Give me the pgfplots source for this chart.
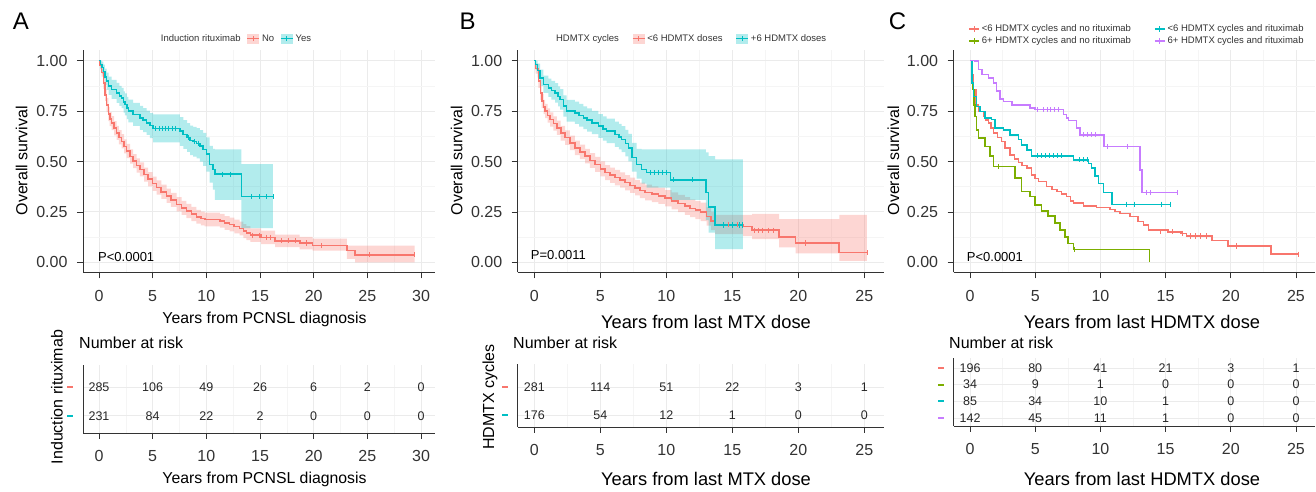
\documentclass[border=0pt]{standalone}
\usepackage{fontspec}
\setmainfont{Liberation Sans}
\usepackage{pgfplots}
\pgfplotsset{compat=1.18}
\usepgfplotslibrary{fillbetween}
\definecolor{kmred}{HTML}{F8766D}
\definecolor{kmcyan}{HTML}{00BFC4}
\definecolor{kmgreen}{HTML}{7CAE00}
\definecolor{kmpurple}{HTML}{C77CFF}
\definecolor{tickgray}{HTML}{333333}
\newcommand{\fsz}[1]{\fontsize{#1}{#1}\selectfont}
\newcommand{\keybox}[1]{\fill[#1, opacity=0.3, draw=none] (0pt,-5pt) rectangle (12pt,5pt);
  \draw[#1, line width=1.4pt] (0pt,0pt) -- (12pt,0pt); \draw[#1, line width=0.9pt] (6pt,-2.5pt) -- (6pt,2.5pt);}
\newcommand{\keyline}[1]{\draw[#1, line width=1.6pt] (0pt,0pt) -- (10pt,0pt); \draw[#1, line width=1pt] (5pt,-2.8pt) -- (5pt,2.8pt);}
\newcommand{\dash}[1]{\textcolor{#1}{\rule{6pt}{2.2pt}}}
\pgfplotsset{
  km/.style={
    scale only axis,
    axis x line*=bottom, axis y line*=left,
    axis line style={-, line width=0.8pt, black!80},
    tick align=outside, major tick length=6pt, minor tick length=0pt,
    tick style={black!80, line width=0.8pt},
    xmajorgrids, ymajorgrids, xminorgrids, minor x tick num=1,
    major grid style={line width=0.9pt, black!8},
    minor grid style={line width=0.6pt, black!4},
    tick label style={font=\fsz{16}, text=tickgray},
    xticklabel style={yshift=-8pt},
    /pgf/number format/assume math mode=true,
  },
  kmmain/.style={km, height=222pt, ymin=-0.05, ymax=1.05,
    ytick={0,0.25,0.5,0.75,1}, yticklabels={0.00,0.25,0.50,0.75,1.00},
    yticklabel style={xshift=-6pt},
    minor y tick num=1, yminorgrids,
    legend style={draw=none, fill=none, inner sep=0pt, font=\fsz{9.5}, text=tickgray},
    legend cell align=left},
  kmrisk/.style={km, ytick style={draw=none}},
  curve/.style={const plot, line width=1.55pt, forget plot},
  cens/.style={only marks, mark=|, mark size=2.6pt, mark options={line width=0.8pt}, forget plot},
  band/.style={draw=none, const plot, forget plot},
  risknum/.style={only marks, mark=none, forget plot, nodes near coords, point meta=explicit symbolic,
    every node near coord/.style={anchor=center, font=\fsz{12.5}, text=black!85}},
}
\begin{document}
\begin{tikzpicture}[x=1pt, y=1pt]

% ---------------- Panel A ----------------
\begin{axis}[kmmain, at={(83pt,219.5pt)}, anchor=south west, width=352pt,
  xmin=-1.49, xmax=31.3, xtick={0,5,...,30},
  legend columns=-1,
  legend style={at={(0.215,1.054)}, anchor=west, /tikz/every even column/.append style={column sep=4pt}}]
\addlegendimage{empty legend}\addlegendentry{Induction rituximab}
\addlegendimage{legend image code/.code={\keybox{kmred}}}\addlegendentry{No\hspace{18pt}}
\addlegendimage{legend image code/.code={\keybox{kmcyan}}}\addlegendentry{Yes}
\addplot[band, name path=aru] coordinates {(0,1)(0.1,0.99)(0.25,0.96)(0.4,0.92)(0.56,0.86)(0.7,0.815)(0.87,0.77)(1.0,0.745)(1.18,0.725)(1.4,0.70)(1.64,0.677)(1.85,0.655)(2.11,0.635)(2.35,0.61)(2.57,0.587)(2.9,0.56)(3.19,0.537)(3.5,0.515)(3.81,0.496)(4.2,0.47)(4.58,0.447)(5.0,0.425)(5.36,0.406)(5.8,0.385)(6.29,0.365)(6.7,0.345)(7.22,0.323)(7.7,0.305)(8.15,0.29)(8.6,0.275)(9.08,0.26)(9.5,0.252)(9.85,0.247)(11.25,0.24)(11.7,0.229)(12.17,0.222)(12.6,0.212)(13.1,0.202)(13.45,0.19)(13.73,0.18)(14.1,0.168)(15.1,0.157)(16.4,0.138)(18.7,0.127)(19.9,0.118)(23.1,0.083)(23.85,0.083)(29.4,0.083)};
\addplot[band, name path=arl] coordinates {(0,1)(0.1,0.96)(0.25,0.92)(0.4,0.86)(0.56,0.80)(0.7,0.745)(0.87,0.70)(1.0,0.675)(1.18,0.655)(1.4,0.63)(1.64,0.607)(1.85,0.585)(2.11,0.565)(2.35,0.54)(2.57,0.517)(2.9,0.49)(3.19,0.467)(3.5,0.445)(3.81,0.426)(4.2,0.40)(4.58,0.377)(5.0,0.355)(5.36,0.336)(5.8,0.315)(6.29,0.295)(6.7,0.275)(7.22,0.253)(7.7,0.235)(8.15,0.22)(8.6,0.205)(9.08,0.192)(9.5,0.184)(9.85,0.179)(11.25,0.172)(11.7,0.161)(12.17,0.154)(12.6,0.144)(13.1,0.134)(13.45,0.12)(13.73,0.11)(14.1,0.102)(15.1,0.091)(16.4,0.076)(18.7,0.065)(19.9,0.058)(23.1,0.017)(23.85,0.0)(29.4,0.0)};
\addplot[fill=kmred, fill opacity=0.3, draw=none, forget plot] fill between[of=aru and arl];
\addplot[band, name path=acu] coordinates {(0,1)(0.15,1.0)(0.3,0.995)(0.4,0.98)(0.55,0.96)(0.71,0.94)(0.9,0.92)(1.18,0.905)(1.64,0.89)(1.9,0.875)(2.11,0.865)(2.3,0.848)(2.42,0.837)(2.6,0.82)(2.73,0.806)(3.19,0.79)(3.81,0.775)(4.1,0.765)(4.43,0.752)(4.75,0.74)(5.05,0.733)(7.53,0.72)(7.85,0.705)(8.2,0.69)(8.5,0.678)(8.77,0.672)(9.1,0.665)(9.39,0.655)(9.7,0.642)(10.0,0.62)(10.3,0.578)(10.6,0.563)(10.8,0.56)(13.26,0.487)(16.2,0.487)};
\addplot[band, name path=acl] coordinates {(0,1)(0.15,0.955)(0.3,0.935)(0.4,0.91)(0.55,0.88)(0.71,0.855)(0.9,0.83)(1.18,0.81)(1.64,0.79)(1.9,0.775)(2.11,0.765)(2.3,0.742)(2.42,0.729)(2.6,0.71)(2.73,0.694)(3.19,0.676)(3.81,0.657)(4.1,0.645)(4.43,0.632)(4.75,0.616)(5.05,0.595)(7.53,0.578)(7.85,0.563)(8.2,0.548)(8.5,0.532)(8.77,0.524)(9.1,0.515)(9.39,0.499)(9.7,0.478)(10.0,0.45)(10.3,0.395)(10.6,0.36)(10.8,0.31)(13.26,0.17)(16.2,0.17)};
\addplot[fill=kmcyan, fill opacity=0.3, draw=none, forget plot] fill between[of=acu and acl];
\addplot[curve, kmred] coordinates {(0,1)(0.1,0.975)(0.25,0.94)(0.4,0.89)(0.56,0.83)(0.7,0.78)(0.87,0.735)(1.0,0.71)(1.18,0.69)(1.4,0.665)(1.64,0.642)(1.85,0.62)(2.11,0.60)(2.35,0.575)(2.57,0.552)(2.9,0.525)(3.19,0.502)(3.5,0.48)(3.81,0.461)(4.2,0.435)(4.58,0.412)(5.0,0.39)(5.36,0.371)(5.8,0.35)(6.29,0.33)(6.7,0.31)(7.22,0.288)(7.7,0.27)(8.15,0.255)(8.6,0.24)(9.08,0.226)(9.5,0.218)(9.85,0.213)(11.25,0.206)(11.7,0.195)(12.17,0.188)(12.6,0.178)(13.1,0.168)(13.45,0.155)(13.73,0.145)(14.1,0.135)(15.1,0.124)(16.4,0.107)(18.7,0.096)(19.9,0.083)(23.1,0.058)(23.85,0.038)(29.4,0.038)};
\addplot[curve, kmcyan] coordinates {(0,1)(0.15,0.98)(0.3,0.965)(0.4,0.947)(0.55,0.92)(0.71,0.898)(0.9,0.875)(1.18,0.857)(1.64,0.84)(1.9,0.825)(2.11,0.815)(2.3,0.795)(2.42,0.783)(2.6,0.765)(2.73,0.75)(3.19,0.733)(3.81,0.716)(4.1,0.705)(4.43,0.692)(4.75,0.678)(5.05,0.664)(7.53,0.65)(7.85,0.634)(8.2,0.62)(8.5,0.605)(8.77,0.598)(9.1,0.59)(9.39,0.577)(9.7,0.56)(10.0,0.536)(10.3,0.486)(10.6,0.46)(10.8,0.437)(13.26,0.326)(16.2,0.326)};
\addplot[cens, kmred] coordinates {(14.3,0.135)(14.9,0.135)(15.6,0.124)(16.0,0.124)(17.0,0.107)(17.6,0.107)(18.3,0.107)(19.3,0.096)(20.7,0.083)(25.2,0.038)(29.4,0.038)};
\addplot[cens, kmcyan] coordinates {(5.3,0.664)(5.6,0.664)(5.9,0.664)(6.2,0.664)(6.5,0.664)(6.8,0.664)(7.1,0.664)(8.3,0.62)(8.9,0.598)(9.3,0.59)(11.5,0.437)(12.2,0.437)(14.2,0.326)(14.9,0.326)(15.6,0.326)(16.2,0.326)};
\end{axis}

\begin{axis}[kmrisk, at={(83pt,59pt)}, anchor=south west, width=352pt, height=68pt,
  xmin=-1.49, xmax=31.3, xtick={0,5,...,30}, ymin=0.41, ymax=2.76,
  ytick={1,2}, yticklabels={\dash{kmcyan},\dash{kmred}}]
\addplot[risknum] coordinates {(0,2)[285] (5,2)[106] (10,2)[49] (15,2)[26] (20,2)[6] (25,2)[2] (30,2)[0]
  (0,1)[231] (5,1)[84] (10,1)[22] (15,1)[2] (20,1)[0] (25,1)[0] (30,1)[0]};
\end{axis}

% ---------------- Panel B ----------------
\begin{axis}[kmmain, at={(517.7pt,219.5pt)}, anchor=south west, width=365.9pt,
  xmin=-1.26, xmax=26.46, xtick={0,5,...,25},
  legend columns=-1,
  legend style={at={(0.099,1.054)}, anchor=west, /tikz/every even column/.append style={column sep=11pt}}]
\addlegendimage{empty legend}\addlegendentry{HDMTX cycles}
\addlegendimage{legend image code/.code={\keybox{kmred}}}\addlegendentry{<6 HDMTX doses}
\addlegendimage{legend image code/.code={\keybox{kmcyan}}}\addlegendentry{+6 HDMTX doses}
\addplot[band, name path=bru] coordinates {(0,1)(0.1,0.985)(0.3,0.93)(0.45,0.875)(0.56,0.835)(0.7,0.805)(0.81,0.785)(1.0,0.763)(1.19,0.743)(1.45,0.723)(1.7,0.702)(2.0,0.676)(2.33,0.654)(2.7,0.628)(3.08,0.604)(3.45,0.584)(3.84,0.563)(4.2,0.542)(4.6,0.523)(5.0,0.5)(5.36,0.482)(5.75,0.47)(6.11,0.458)(6.5,0.446)(6.87,0.433)(7.25,0.42)(7.63,0.408)(8.0,0.395)(8.39,0.385)(8.9,0.377)(9.4,0.37)(9.9,0.358)(10.4,0.347)(10.9,0.335)(11.4,0.324)(11.8,0.312)(12.2,0.304)(12.6,0.296)(13.05,0.274)(13.4,0.25)(13.7,0.235)(15.8,0.235)(16.5,0.24)(18.55,0.214)(19.8,0.214)(23.1,0.235)(25.2,0.235)};
\addplot[band, name path=brl] coordinates {(0,1)(0.1,0.935)(0.3,0.865)(0.45,0.805)(0.56,0.765)(0.7,0.735)(0.81,0.715)(1.0,0.693)(1.19,0.673)(1.45,0.653)(1.7,0.632)(2.0,0.604)(2.33,0.582)(2.7,0.556)(3.08,0.532)(3.45,0.512)(3.84,0.491)(4.2,0.468)(4.6,0.449)(5.0,0.426)(5.36,0.408)(5.75,0.394)(6.11,0.382)(6.5,0.37)(6.87,0.357)(7.25,0.344)(7.63,0.332)(8.0,0.319)(8.39,0.307)(8.9,0.299)(9.4,0.29)(9.9,0.278)(10.4,0.263)(10.9,0.249)(11.4,0.236)(11.8,0.224)(12.2,0.214)(12.6,0.204)(13.05,0.182)(13.4,0.16)(13.7,0.14)(15.8,0.13)(16.5,0.115)(18.55,0.075)(19.8,0.045)(23.1,0.008)(25.2,0.008)};
\addplot[fill=kmred, fill opacity=0.3, draw=none, forget plot] fill between[of=bru and brl];
\addplot[band, name path=bcu] coordinates {(0,1)(0.1,1.0)(0.25,0.985)(0.43,0.955)(0.68,0.925)(1.06,0.91)(1.3,0.9)(1.57,0.888)(1.8,0.872)(1.95,0.858)(2.2,0.828)(2.45,0.805)(3.08,0.797)(3.4,0.785)(3.71,0.773)(4.0,0.763)(4.35,0.751)(4.85,0.735)(5.2,0.723)(5.48,0.713)(6.11,0.697)(6.4,0.686)(6.62,0.675)(6.9,0.657)(7.12,0.637)(7.38,0.592)(7.75,0.562)(8.13,0.56)(8.5,0.56)(10.3,0.56)(13.0,0.545)(13.2,0.527)(13.7,0.51)(15.8,0.51)};
\addplot[band, name path=bcl] coordinates {(0,1)(0.1,0.955)(0.25,0.915)(0.43,0.875)(0.68,0.84)(1.06,0.82)(1.3,0.806)(1.57,0.792)(1.8,0.773)(1.95,0.757)(2.2,0.722)(2.45,0.697)(3.08,0.687)(3.4,0.673)(3.71,0.66)(4.0,0.648)(4.35,0.635)(4.85,0.617)(5.2,0.603)(5.48,0.591)(6.11,0.573)(6.4,0.56)(6.62,0.547)(6.9,0.525)(7.12,0.501)(7.38,0.45)(7.75,0.415)(8.13,0.39)(8.5,0.37)(10.3,0.31)(13.0,0.21)(13.2,0.148)(13.7,0.066)(15.8,0.066)};
\addplot[fill=kmcyan, fill opacity=0.3, draw=none, forget plot] fill between[of=bcu and bcl];
\addplot[curve, kmred] coordinates {(0,1)(0.1,0.96)(0.3,0.898)(0.45,0.84)(0.56,0.80)(0.7,0.77)(0.81,0.75)(1.0,0.728)(1.19,0.708)(1.45,0.688)(1.7,0.667)(2.0,0.64)(2.33,0.618)(2.7,0.592)(3.08,0.568)(3.45,0.548)(3.84,0.527)(4.2,0.505)(4.6,0.486)(5.0,0.463)(5.36,0.445)(5.75,0.432)(6.11,0.42)(6.5,0.408)(6.87,0.395)(7.25,0.382)(7.63,0.37)(8.0,0.357)(8.39,0.346)(8.9,0.338)(9.4,0.33)(9.9,0.318)(10.4,0.305)(10.9,0.292)(11.4,0.28)(11.8,0.268)(12.2,0.259)(12.6,0.25)(13.05,0.228)(13.4,0.205)(13.7,0.187)(15.8,0.178)(16.5,0.16)(18.55,0.127)(19.8,0.096)(23.1,0.048)(25.2,0.048)};
\addplot[curve, kmcyan] coordinates {(0,1)(0.1,0.98)(0.25,0.95)(0.43,0.914)(0.68,0.881)(1.06,0.865)(1.3,0.852)(1.57,0.84)(1.8,0.822)(1.95,0.807)(2.2,0.774)(2.45,0.75)(3.08,0.741)(3.4,0.728)(3.71,0.716)(4.0,0.705)(4.35,0.692)(4.85,0.675)(5.2,0.662)(5.48,0.651)(6.11,0.634)(6.4,0.622)(6.62,0.61)(6.9,0.59)(7.12,0.568)(7.38,0.519)(7.75,0.486)(8.13,0.461)(8.5,0.445)(10.3,0.409)(13.0,0.346)(13.2,0.275)(13.7,0.185)(15.8,0.185)};
\addplot[cens, kmred] coordinates {(14.7,0.187)(15.4,0.187)(16.7,0.16)(17.0,0.16)(17.3,0.16)(17.7,0.16)(18.1,0.16)(20.5,0.096)(25.2,0.048)};
\addplot[cens, kmcyan] coordinates {(8.8,0.445)(9.1,0.445)(9.4,0.445)(9.7,0.445)(10.0,0.445)(10.5,0.409)(12.0,0.409)(14.3,0.185)(15.0,0.185)(15.5,0.185)(15.8,0.185)};
\end{axis}

\begin{axis}[kmrisk, at={(517.7pt,65pt)}, anchor=south west, width=365.9pt, height=63pt,
  xmin=-1.26, xmax=26.46, xtick={0,5,...,25}, ymin=0.57, ymax=2.82,
  ytick={1,2}, yticklabels={\dash{kmcyan},\dash{kmred}}]
\addplot[risknum] coordinates {(0,2)[281] (5,2)[114] (10,2)[51] (15,2)[22] (20,2)[3] (25,2)[1]
  (0,1)[176] (5,1)[54] (10,1)[12] (15,1)[1] (20,1)[0] (25,1)[0]};
\end{axis}

% ---------------- Panel C ----------------
\begin{axis}[kmmain, at={(953.6pt,219.5pt)}, anchor=south west, width=361.4pt,
  xmin=-1.26, xmax=26.46, xtick={0,5,...,25},
  legend columns=2,
  legend style={at={(0.04,1.07)}, anchor=west, /tikz/every even column/.append style={column sep=21pt}}]
\addlegendimage{legend image code/.code={\keyline{kmred}}}\addlegendentry{<6 HDMTX cycles and no rituximab}
\addlegendimage{legend image code/.code={\keyline{kmcyan}}}\addlegendentry{<6 HDMTX cycles and rituximab}
\addlegendimage{legend image code/.code={\keyline{kmgreen}}}\addlegendentry{6+ HDMTX cycles and no rituximab}
\addlegendimage{legend image code/.code={\keyline{kmpurple}}}\addlegendentry{6+ HDMTX cycles and rituximab}
\addplot[curve, kmred] coordinates {(0,1)(0.1,0.93)(0.26,0.856)(0.46,0.781)(0.64,0.748)(1.02,0.723)(1.2,0.705)(1.4,0.69)(1.6,0.665)(1.79,0.641)(2.1,0.62)(2.43,0.599)(2.68,0.566)(3.07,0.533)(3.4,0.512)(3.71,0.495)(4.0,0.48)(4.35,0.467)(4.73,0.434)(5.0,0.415)(5.24,0.40)(5.88,0.376)(6.3,0.362)(6.65,0.351)(7.0,0.338)(7.41,0.326)(7.7,0.305)(7.92,0.293)(8.69,0.28)(9.71,0.271)(10.74,0.263)(11.1,0.252)(11.5,0.243)(12.27,0.227)(12.9,0.202)(13.3,0.185)(13.7,0.16)(15.2,0.152)(16.2,0.144)(16.6,0.131)(18.55,0.108)(19.8,0.081)(23.1,0.041)(25.2,0.041)};
\addplot[curve, kmgreen] coordinates {(0,1)(0.1,0.92)(0.2,0.856)(0.3,0.78)(0.38,0.723)(0.51,0.657)(0.64,0.616)(1.15,0.574)(1.53,0.528)(1.79,0.475)(3.45,0.417)(3.96,0.351)(4.6,0.326)(4.98,0.285)(5.49,0.255)(6.0,0.23)(6.5,0.194)(6.9,0.16)(7.3,0.127)(7.5,0.094)(7.92,0.064)(13.76,0.0)};
\addplot[curve, kmcyan] coordinates {(0,1)(0.13,0.889)(0.26,0.823)(0.51,0.773)(0.77,0.748)(1.15,0.715)(1.66,0.707)(1.92,0.666)(2.55,0.657)(3.07,0.632)(3.7,0.608)(3.96,0.583)(4.35,0.558)(4.73,0.528)(7.92,0.508)(9.07,0.49)(9.33,0.467)(9.59,0.429)(9.84,0.392)(10.22,0.346)(10.87,0.288)(15.39,0.288)};
\addplot[curve, kmpurple] coordinates {(0,1)(0.38,0.997)(0.64,0.955)(0.9,0.93)(1.4,0.914)(1.79,0.889)(2.04,0.848)(2.3,0.81)(2.55,0.798)(3.2,0.781)(4.6,0.765)(5.0,0.757)(7.16,0.732)(7.41,0.715)(7.54,0.703)(8.18,0.666)(8.44,0.632)(10.28,0.574)(13.04,0.459)(13.2,0.346)(15.9,0.346)};
\addplot[cens, kmred] coordinates {(14.6,0.152)(15.5,0.152)(16.3,0.144)(16.9,0.131)(17.3,0.131)(17.7,0.131)(18.1,0.131)(20.4,0.081)(25.2,0.041)};
\addplot[cens, kmgreen] coordinates {(2.2,0.475)(8.0,0.064)};
\addplot[cens, kmcyan] coordinates {(5.2,0.528)(5.5,0.528)(5.8,0.528)(6.1,0.528)(6.4,0.528)(6.7,0.528)(7.0,0.528)(8.4,0.508)(8.7,0.508)(9.0,0.508)(12.0,0.288)(12.6,0.288)(14.7,0.288)(15.4,0.288)};
\addplot[cens, kmpurple] coordinates {(5.2,0.757)(5.6,0.757)(5.9,0.757)(6.2,0.757)(6.5,0.757)(6.8,0.757)(8.7,0.632)(9.0,0.632)(9.3,0.632)(9.6,0.632)(10.5,0.574)(12.1,0.574)(13.5,0.346)(13.8,0.346)(15.9,0.346)};
\end{axis}

\begin{axis}[kmrisk, at={(953.6pt,66pt)}, anchor=south west, width=361.4pt, height=68pt,
  xmin=-1.26, xmax=26.46, xtick={0,5,...,25}, ymin=0.52, ymax=4.6,
  ytick={1,2,3,4}, yticklabels={\dash{kmpurple},\dash{kmcyan},\dash{kmgreen},\dash{kmred}}]
\addplot[risknum] coordinates {(0,4)[196] (5,4)[80] (10,4)[41] (15,4)[21] (20,4)[3] (25,4)[1]
  (0,3)[34] (5,3)[9] (10,3)[1] (15,3)[0] (20,3)[0] (25,3)[0]
  (0,2)[85] (5,2)[34] (10,2)[10] (15,2)[1] (20,2)[0] (25,2)[0]
  (0,1)[142] (5,1)[45] (10,1)[11] (15,1)[1] (20,1)[0] (25,1)[0]};
\end{axis}

% ---------------- text ----------------
\node[font=\fsz{24}] at (21,470.5) {A};
\node[font=\fsz{24}] at (467.5,470.5) {B};
\node[font=\fsz{24}] at (897.5,470.5) {C};
\node[font=\fsz{16}, rotate=90] at (21.7,331.3) {Overall survival};
\node[font=\fsz{16}, rotate=90] at (456.7,331.3) {Overall survival};
\node[font=\fsz{16}, rotate=90] at (893.3,331.3) {Overall survival};
\node[font=\fsz{13}, anchor=west, inner sep=0pt] at (98,235) {P<0.0001};
\node[font=\fsz{13}, anchor=west, inner sep=0pt] at (530.7,237) {P=0.0011};
\node[font=\fsz{13}, anchor=west, inner sep=0pt] at (966.7,235.3) {P<0.0001};
\node[font=\fsz{15.8}] at (264.5,173) {Years from PCNSL diagnosis};
\node[font=\fsz{18.3}] at (706,170) {Years from last MTX dose};
\node[font=\fsz{18.3}] at (1142,170) {Years from last HDMTX dose};
\node[font=\fsz{16}, anchor=west, inner sep=0pt] at (79,149) {Number at risk};
\node[font=\fsz{16}, anchor=west, inner sep=0pt] at (513,149) {Number at risk};
\node[font=\fsz{16}, anchor=west, inner sep=0pt] at (949,149) {Number at risk};
\node[font=\fsz{15.8}] at (264.5,13) {Years from PCNSL diagnosis};
\node[font=\fsz{18.3}] at (706,13) {Years from last MTX dose};
\node[font=\fsz{18.3}] at (1142,13) {Years from last HDMTX dose};
\node[font=\fsz{16}, rotate=90] at (57,95) {Induction rituximab};
\node[font=\fsz{16}, rotate=90] at (490,95) {HDMTX cycles};

\pgfresetboundingbox
\path[use as bounding box] (0,0) rectangle (1316,492);
\end{tikzpicture}
\end{document}
